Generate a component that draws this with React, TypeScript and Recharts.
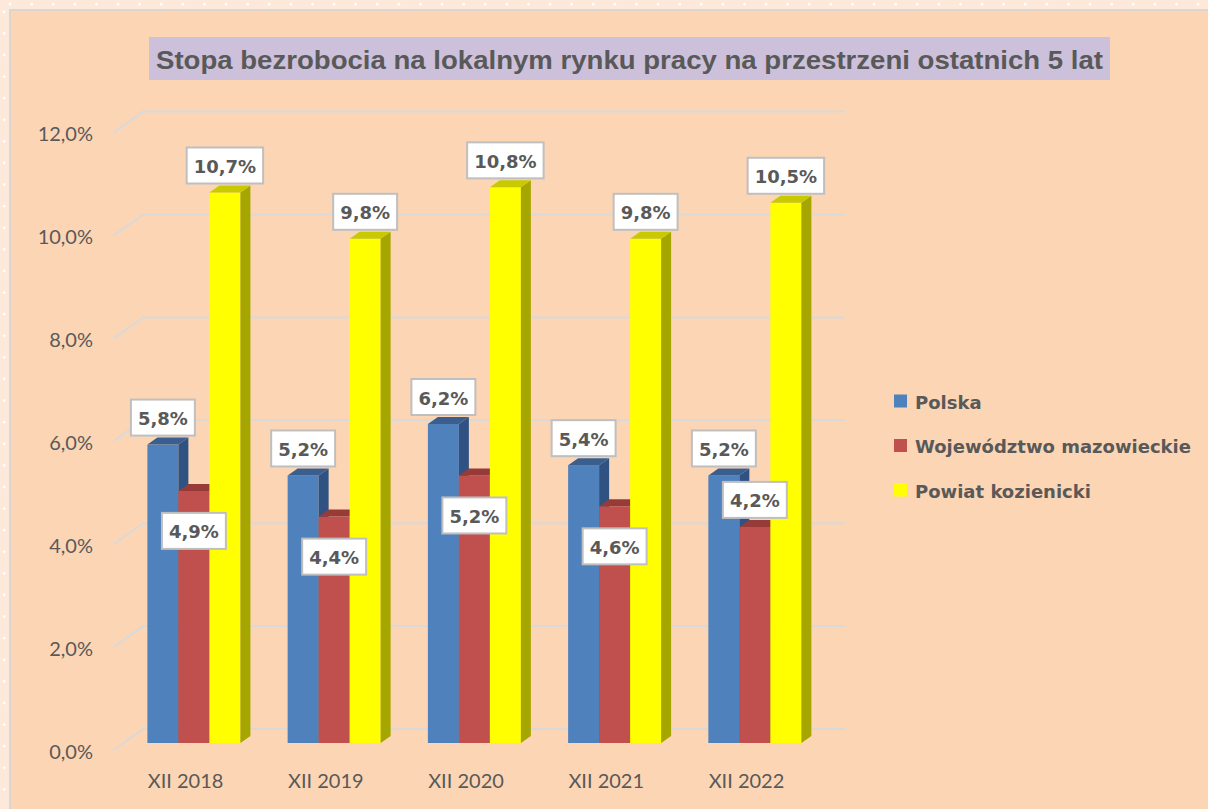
import React from 'react';
import { BarChart, Bar, XAxis, YAxis, CartesianGrid, LabelList, Legend } from 'recharts';

const categories = ['XII 2018', 'XII 2019', 'XII 2020', 'XII 2021', 'XII 2022'];
const polska = [5.8, 5.2, 6.2, 5.4, 5.2];
const mazowieckie = [4.9, 4.4, 5.2, 4.6, 4.2];
const kozienicki = [10.7, 9.8, 10.8, 9.8, 10.5];
const yTicks = [0, 2, 4, 6, 8, 10, 12];
const seriesNames = ['Polska', 'Województwo mazowieckie', 'Powiat kozienicki'];
const title = 'Stopa bezrobocia na lokalnym rynku pracy na przestrzeni ostatnich 5 lat';

const data = categories.map((c, i) => ({ cat: c, polska: polska[i], maz: mazowieckie[i], koz: kozienicki[i] }));

const COLORS = [
  { front: '#4F81BD', side: '#2F5282', top: '#3A5F8E' },
  { front: '#C0504D', side: '#8B3533', top: '#973B39' },
  { front: '#FFFF00', side: '#A6A600', top: '#C9C900' },
];

const DX = 10;
const DY = -7;

const fmt = (v: number) => v.toFixed(1).replace('.', ',') + '%';
const labelTextWidth = (t: string) => {
  let w = 0;
  for (const ch of t) {
    if (ch === ',') w += 0.38;
    else if (ch === '%') w += 1.002;
    else w += 0.696;
  }
  return w * 18;
};

const make3D = (c: { front: string; side: string; top: string }) => (props: any) => {
  const { x, y, width: w, height: h } = props;
  if (w == null || h == null) return <g />;
  return (
    <g>
      <rect x={x} y={y} width={w} height={h} fill={c.front} />
      <polygon points={`${x + w},${y} ${x + w + DX},${y + DY} ${x + w + DX},${y + h + DY} ${x + w},${y + h}`} fill={c.side} />
      <polygon points={`${x},${y} ${x + DX},${y + DY} ${x + w + DX},${y + DY} ${x + w},${y}`} fill={c.top} />
    </g>
  );
};

// labels drawn from the last series so they sit above every bar
const makeLabel = (seriesIdx: number) => (props: any) => {
  const vb = props.viewBox || props;
  const bx = vb.x ?? props.x;
  const by = vb.y ?? props.y;
  const bw = vb.width ?? props.width;
  const bh = vb.height ?? props.height;
  const index = props.index;
  const value = props.value;
  if (bx == null || value == null) return null;
  const refVal = kozienicki[index];
  const bottom = by + bh;
  const perUnit = bh / refVal;
  const top = bottom - value * perUnit;
  const x = bx - (2 - seriesIdx) * bw;
  const cx = x + bw / 2;
  let cy: number;
  if (seriesIdx === 1) {
    cy = index === categories.length - 1 ? top - 27 : top + 40;
  } else {
    cy = top - 27;
  }
  const text = fmt(value);
  const boxW = labelTextWidth(text) + 14;
  const boxH = 36;
  return (
    <g>
      <rect x={cx - boxW / 2} y={cy - boxH / 2} width={boxW} height={boxH} fill="#FFFFFF" stroke="#BFBFBF" strokeWidth={2} />
      <text x={cx} y={cy + 1} textAnchor="middle" dominantBaseline="central" fontFamily="DejaVu Sans" fontWeight="bold" fontSize={18} fill="#595959">
        {text}
      </text>
    </g>
  );
};

const YTick = (props: any) => {
  const { y, payload } = props;
  return (
    <text x={93} y={y + 7.5} textAnchor="end" dominantBaseline="central" fontFamily="Lato" fontSize={20} fill="#595959">
      {payload.value.toFixed(1).replace('.', ',') + '%'}
    </text>
  );
};

const XTick = (props: any) => {
  const { x, payload } = props;
  return (
    <text x={x - 8} y={780} textAnchor="middle" dominantBaseline="central" fontFamily="Lato" fontSize={20} fill="#595959">
      {payload.value}
    </text>
  );
};

const GridLine = (props: any) => {
  const { x1, x2, y1 } = props;
  return (
    <polyline
      key={props.key ?? `g-${y1}`}
      points={`${x1 - 10},${y1 + 7} ${x1 + 20},${y1 - 14} ${x2 + 20},${y1 - 14}`}
      fill="none"
      stroke="#D9D9D9"
      strokeWidth={2}
    />
  );
};

const LegendContent = () => (
  <svg width={320} height={135}>
    {seriesNames.map((n, i) => (
      <g key={n} transform={`translate(0, ${22 + i * 44.5})`}>
        <rect x={4} y={-6.5} width={13} height={13} fill={COLORS[i].front} />
        <text x={25} y={1} dominantBaseline="central" fontFamily="DejaVu Sans" fontWeight="bold" fontSize={18} fill="#595959">
          {n}
        </text>
      </g>
    ))}
  </svg>
);

export default function App() {
  const dotsTop = [] as React.ReactNode[];
  for (let k = 0; k < 56; k++) dotsTop.push(<circle key={'t' + k} cx={10.1 + k * 21.6} cy={4} r={1.4} fill="#FFFFFF" />);
  const dotsLeft = [] as React.ReactNode[];
  for (let k = 0; k < 38; k++) dotsLeft.push(<circle key={'l' + k} cx={4} cy={11.8 + k * 21.6} r={1.4} fill="#FFFFFF" />);

  return (
    <div style={{ position: 'absolute', left: 0, top: 0, width: 1208, height: 809, overflow: 'hidden' }}>
      <svg width={1208} height={809} style={{ position: 'absolute', left: 0, top: 0 }}>
        <rect x={0} y={0} width={1208} height={809} fill="#FDE9D9" />
        {dotsTop}
        {dotsLeft}
        <rect x={10} y={10} width={1198} height={799} fill="#FCD5B5" />
        <line x1={9} y1={10} x2={1208} y2={10} stroke="#DCD6D0" strokeWidth={2} />
        <line x1={10} y1={9} x2={10} y2={809} stroke="#DCD6D0" strokeWidth={2} />
        <rect x={149} y={37} width={961} height={43} fill="#CCC0DA" />
        <text x={156} y={60} textLength={947} lengthAdjust="spacingAndGlyphs" dominantBaseline="central" fontFamily="Liberation Sans" fontWeight="bold" fontSize={25} fill="#595959">
          {title}
        </text>
      </svg>
      <div style={{ position: 'absolute', left: 0, top: 0 }}>
        <BarChart
          width={1208}
          height={809}
          data={data}
          margin={{ top: 125.6, right: 383.4, bottom: 36, left: 63.4 }}
          barGap={0}
          barCategoryGap="16.9%"
        >
          <CartesianGrid vertical={false} horizontal={GridLine as any} />
          <XAxis dataKey="cat" axisLine={false} tickLine={false} height={30} tick={<XTick />} interval={0} />
          <YAxis width={60} domain={[0, 12]} ticks={yTicks} axisLine={false} tickLine={false} tick={<YTick />} />
          <Legend layout="vertical" align="center" verticalAlign="middle" content={<LegendContent />} wrapperStyle={{ left: 890, top: 379, width: 320 }} />
          <Bar dataKey="polska" name={seriesNames[0]} fill={COLORS[0].front} barSize={31} shape={make3D(COLORS[0])} isAnimationActive={false} />
          <Bar dataKey="maz" name={seriesNames[1]} fill={COLORS[1].front} barSize={31} shape={make3D(COLORS[1])} isAnimationActive={false} />
          <Bar dataKey="koz" name={seriesNames[2]} fill={COLORS[2].front} barSize={31} shape={make3D(COLORS[2])} isAnimationActive={false}>
            <LabelList dataKey="polska" content={makeLabel(0)} />
            <LabelList dataKey="maz" content={makeLabel(1)} />
            <LabelList dataKey="koz" content={makeLabel(2)} />
          </Bar>
        </BarChart>
      </div>
    </div>
  );
}
